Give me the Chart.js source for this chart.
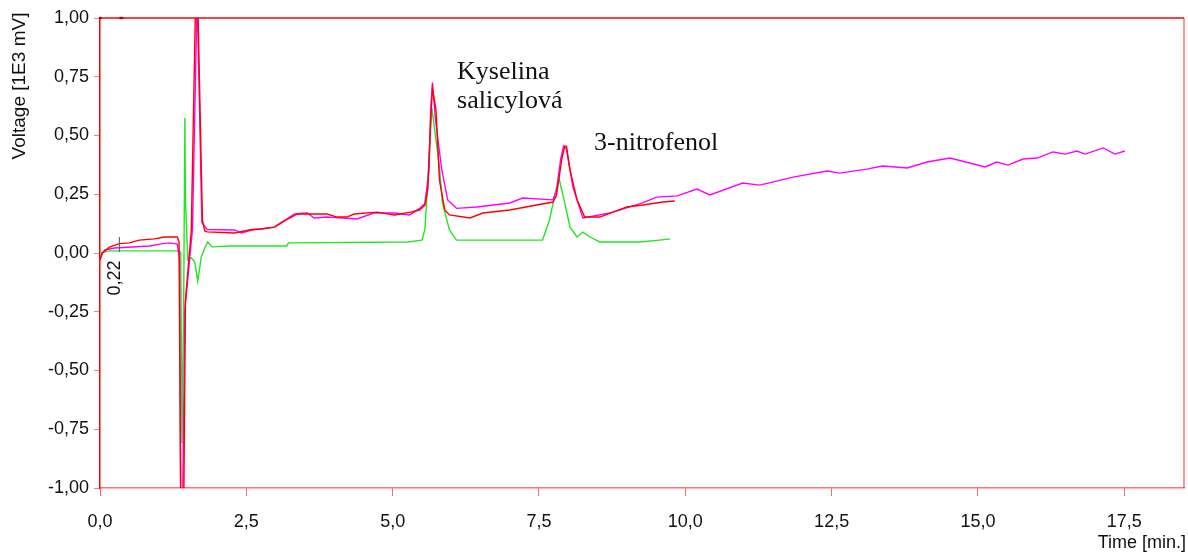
<!DOCTYPE html>
<html>
<head>
<meta charset="utf-8">
<script src="https://cdn.jsdelivr.net/npm/chart.js@4.4.1/dist/chart.umd.min.js"></script>
<style>
  html, body { margin: 0; padding: 0; background: #fff; }
  canvas { display: block; }
</style>
</head>
<body>
<canvas id="chrom" width="1188" height="553"></canvas>
<script>
// detector traces, time in minutes, voltage in 1E3 mV
const redTime = [0.00, 0.04, 0.16, 0.33, 0.50, 0.67, 0.93, 1.10, 1.32, 1.35, 1.38, 1.43, 1.46, 1.56, 1.65,
	1.75, 1.79, 1.83, 2.30, 2.59, 2.76, 2.98, 3.10, 3.27, 3.37, 3.88, 4.05, 4.22, 4.34, 4.74, 5.03, 5.31,
	5.46, 5.55, 5.60, 5.65, 5.68, 5.74, 5.80, 5.89, 5.97, 6.32, 6.54, 7.00, 7.46, 7.74, 7.80, 7.89, 7.94,
	7.97, 8.03, 8.15, 8.28, 8.54, 9.00, 9.27, 9.62, 9.82];
const redVolt = [-0.03, 0.00, 0.025, 0.04, 0.043, 0.055, 0.06, 0.068, 0.068, 0.047, -1.10, -1.10, -0.20, 0.10, 1.30,
	0.14, 0.094, 0.09, 0.085, 0.10, 0.102, 0.11, 0.13, 0.153, 0.166, 0.166, 0.153, 0.153, 0.166, 0.174, 0.162, 0.174,
	0.183, 0.204, 0.27, 0.57, 0.70, 0.61, 0.31, 0.183, 0.162, 0.149, 0.17, 0.183, 0.204, 0.217, 0.247, 0.40, 0.455,
	0.455, 0.353, 0.226, 0.153, 0.153, 0.196, 0.204, 0.217, 0.221];

const magentaTime = [0.00, 0.08, 0.25, 0.85, 1.02, 1.19, 1.32, 1.36, 1.38, 1.41, 1.45, 1.58, 1.66, 1.74, 1.83,
	2.30, 2.42, 2.59, 2.98, 3.10, 3.32, 3.54, 3.66, 3.88, 4.39, 4.68, 5.03, 5.29, 5.46, 5.55, 5.62, 5.65,
	5.68, 5.73, 5.84, 5.94, 6.09, 6.44, 7.00, 7.22, 7.74, 7.80, 7.87, 7.92, 7.97, 8.08, 8.25, 8.71, 9.27,
	9.51, 9.86, 10.20, 10.42, 10.98, 11.27, 11.56, 11.84, 12.42, 12.64, 13.10, 13.37, 13.79, 14.13, 14.52,
	14.86, 15.12, 15.32, 15.51, 15.77, 16.01, 16.28, 16.49, 16.69, 16.83, 17.14, 17.34, 17.51];
const magentaVolt = [-0.02, 0.013, 0.021, 0.03, 0.038, 0.043, 0.038, -0.03, -1.10, -1.10, -0.24, 0.10, 1.10, 0.13, 0.10,
	0.098, 0.085, 0.098, 0.11, 0.128, 0.166, 0.17, 0.149, 0.153, 0.145, 0.17, 0.17, 0.162, 0.19, 0.21, 0.35, 0.61,
	0.725, 0.57, 0.353, 0.226, 0.19, 0.196, 0.213, 0.234, 0.226, 0.268, 0.40, 0.455, 0.44, 0.28, 0.149, 0.17, 0.213,
	0.238, 0.243, 0.272, 0.247, 0.298, 0.289, 0.306, 0.323, 0.349, 0.34, 0.357, 0.37, 0.362, 0.387, 0.404,
	0.383, 0.366, 0.387, 0.374, 0.40, 0.404, 0.43, 0.421, 0.434, 0.421, 0.447, 0.421, 0.434];

const greenTime = [0.00, 0.16, 1.36, 1.38, 1.40, 1.43, 1.45, 1.46, 1.50, 1.56, 1.62, 1.67, 1.73, 1.79, 1.84,
	1.92, 2.21, 3.19, 3.22, 5.26, 5.50, 5.55, 5.60, 5.67, 5.74, 5.80, 5.85, 5.97, 6.09, 7.56, 7.68, 7.77,
	7.84, 7.94, 8.03, 8.15, 8.25, 8.37, 8.54, 9.22, 9.56, 9.74];
const greenVolt = [0.00, 0.009, 0.009, 0.00, -0.81, -0.20, 0.574, 0.225, -0.03, -0.02, -0.04, -0.12, -0.017, 0.021, 0.047,
	0.026, 0.03, 0.03, 0.043, 0.047, 0.055, 0.098, 0.30, 0.617, 0.48, 0.366, 0.213, 0.098, 0.055, 0.055, 0.14, 0.247,
	0.319, 0.213, 0.11, 0.068, 0.089, 0.068, 0.047, 0.047, 0.055, 0.06];

// stray markers on the top border
const markTime = [0.01, 0.35, 0.38];
const markVolt = [1.0, 1.0, 1.0];

const retentionMark = 0.22;
const timeTicks = [0, 2.5, 5, 7.5, 10, 12.5, 15, 17.5];
const voltTicks = [-1, -0.75, -0.5, -0.25, 0, 0.25, 0.5, 0.75, 1];

const zip = (xs, ys) => xs.map((x, i) => ({ x, y: ys[i] }));
const comma = (v, d) => v.toFixed(d).replace('.', ',');

const frame = {
	id: 'frame',
	afterDatasetsDraw(chart) {
		const { ctx, chartArea: a, scales } = chart;
		ctx.save();
		ctx.lineWidth = 1.5;
		ctx.strokeStyle = '#ff0000';
		ctx.beginPath();
		ctx.moveTo(a.left, a.top);
		ctx.lineTo(a.right, a.top);
		ctx.stroke();
		ctx.strokeStyle = 'rgba(255,0,0,0.55)';
		ctx.beginPath();
		ctx.moveTo(a.right, a.top);
		ctx.lineTo(a.right, a.bottom);
		ctx.stroke();

		// peak names
		ctx.fillStyle = '#111';
		ctx.font = '26px "Liberation Serif", serif';
		ctx.textBaseline = 'middle';
		ctx.textAlign = 'left';
		const x = scales.x, y = scales.y;
		ctx.fillText('Kyselina', x.getPixelForValue(6.10), y.getPixelForValue(0.77));
		ctx.fillText('salicylová', x.getPixelForValue(6.10), y.getPixelForValue(0.647));
		ctx.fillText('3-nitrofenol', x.getPixelForValue(8.44), y.getPixelForValue(0.468));

		// retention time marker
		const rx = x.getPixelForValue(retentionMark);
		const ry = y.getPixelForValue(0);
		ctx.strokeStyle = '#555';
		ctx.lineWidth = 1;
		ctx.beginPath();
		ctx.moveTo(rx + 6.5, ry - 16);
		ctx.lineTo(rx + 6.5, ry - 1);
		ctx.stroke();
		ctx.save();
		ctx.translate(rx + 2, ry + 25);
		ctx.rotate(-Math.PI / 2);
		ctx.font = '18px "Liberation Sans", Arial, sans-serif';
		ctx.textAlign = 'center';
		ctx.fillStyle = '#111';
		ctx.fillText(comma(retentionMark, 2), 0, 0);
		ctx.restore();

		// axis titles
		ctx.font = '18px "Liberation Sans", Arial, sans-serif';
		ctx.fillStyle = '#111';
		ctx.textAlign = 'right';
		ctx.fillText('Time [min.]', 1186, 543);
		ctx.save();
		ctx.translate(20, 86);
		ctx.rotate(-Math.PI / 2);
		ctx.textAlign = 'center';
		ctx.font = '19px "Liberation Sans", Arial, sans-serif';
		ctx.fillText('Voltage [1E3 mV]', 0, 0);
		ctx.restore();
		ctx.restore();
	},
};

const line = (data, color) => ({
	type: 'line',
	data,
	borderColor: color,
	borderWidth: 1.4,
	pointRadius: 0,
	tension: 0,
	fill: false,
});

new Chart(document.getElementById('chrom'), {
	data: {
		datasets: [
			line(zip(redTime, redVolt), '#ff0000'),
			line(zip(magentaTime, magentaVolt), '#ff00ff'),
			line(zip(greenTime, greenVolt), '#22e622'),
			{
				type: 'scatter',
				data: zip(markTime, markVolt),
				pointRadius: 1.3,
				pointBackgroundColor: '#000',
				pointBorderWidth: 0,
				clip: 4,
			},
		],
	},
	options: {
		responsive: false,
		animation: false,
		devicePixelRatio: 1,
		layout: { padding: { top: 18, right: 3, left: 0, bottom: 0 } },
		plugins: { legend: { display: false }, tooltip: { enabled: false } },
		scales: {
			x: {
				type: 'linear',
				min: 0,
				max: 18.52,
				afterFit: (s) => { s.height = 65; },
				afterBuildTicks: (s) => { s.ticks = timeTicks.map((value) => ({ value })); },
				border: { color: 'rgba(255,0,0,0.55)', width: 1.5 },
				grid: { drawOnChartArea: false, tickLength: 8, color: 'rgba(255,0,0,0.6)' },
				ticks: {
					padding: 15,
					maxRotation: 0,
					color: '#111',
					font: { family: '"Liberation Sans", Arial, sans-serif', size: 18 },
					callback: (v) => comma(v, 1),
				},
			},
			y: {
				type: 'linear',
				min: -1,
				max: 1,
				afterFit: (s) => { s.width = 100; },
				afterBuildTicks: (s) => { s.ticks = voltTicks.map((value) => ({ value })); },
				border: { color: '#ff0000', width: 1.5 },
				grid: { drawOnChartArea: false, tickLength: 6, color: 'rgba(255,0,0,0.5)' },
				ticks: {
					padding: 5,
					color: '#111',
					font: { family: '"Liberation Sans", Arial, sans-serif', size: 18 },
					callback: (v) => comma(v, 2),
				},
			},
		},
	},
	plugins: [frame],
});
</script>
</body>
</html>
